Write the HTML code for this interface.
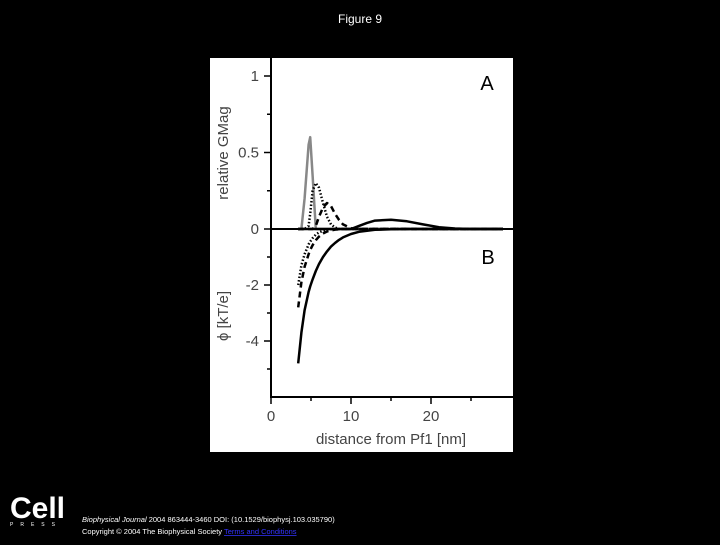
<!DOCTYPE html>
<html><head><meta charset="utf-8"><style>
body{margin:0;background:#000;width:720px;height:540px;overflow:hidden;font-family:"Liberation Sans",sans-serif}
</style></head><body>
<svg width="720" height="540" xmlns="http://www.w3.org/2000/svg">
<text x="360" y="23" fill="#fff" font-size="12" text-anchor="middle">Figure 9</text>
<rect x="210" y="58" width="303" height="394" fill="#fff"/>
<g id="plot"></g>
<text x="10" y="518" fill="#fff" font-size="30" font-weight="bold">Cell</text>
<text x="10" y="526" fill="#fff" font-size="5" letter-spacing="7">PRESS</text>
<text x="82" y="522" fill="#fff" font-size="7.5"><tspan font-style="italic">Biophysical Journal</tspan> 2004 863444-3460 DOI: (10.1529/biophysj.103.035790)</text>
<text x="82" y="534" fill="#fff" font-size="7.5">Copyright © 2004 The Biophysical Society <tspan fill="#33f" text-decoration="underline">Terms and Conditions</tspan></text>
</svg>
<script>
const xTicks=[0,10,20];
const aTicks=[0,0.5,1];
const bTicks=[-2,-4];
const xs=[3.4,3.8,4.2,4.7,4.9,5.2,5.6,6,6.5,7,7.5,8,8.5,9,10,11,12,13,15,17,19,21,23,25,29];
const grayA=[0,0,0.2,0.55,0.6,0.35,0,0,0,0,0,0,0,0,0,0,0,0,0,0,0,0,0,0,0];
const dotA=[0,0,0,0.02,0.1,0.25,0.3,0.27,0.17,0.08,0.03,0.01,0,0,0,0,0,0,0,0,0,0,0,0,0];
const dashA=[0,0,0,0,0,0,0.02,0.08,0.14,0.17,0.15,0.1,0.06,0.03,0.005,0,0,0,0,0,0,0,0,0,0];
const solidA=[0,0,0,0,0,0,0,0,0,0,0,0,0,0,0,0.02,0.04,0.055,0.06,0.05,0.03,0.012,0.003,0,0];
const dotB=[-2,-1.3,-0.9,-0.55,-0.45,-0.33,-0.2,-0.12,-0.06,-0.03,-0.01,0,0,0,0,0,0,0,0,0,0,0,0,0,0];
const dashB=[-2.8,-1.9,-1.35,-0.9,-0.75,-0.58,-0.4,-0.27,-0.16,-0.09,-0.05,-0.02,-0.01,0,0,0,0,0,0,0,0,0,0,0,0];
const solidB=[-4.8,-3.7,-2.9,-2.25,-2.05,-1.8,-1.5,-1.25,-1.0,-0.8,-0.63,-0.5,-0.39,-0.3,-0.18,-0.1,-0.06,-0.03,-0.01,0,0,0,0,0,0];
const NS="http://www.w3.org/2000/svg";
const g=document.getElementById('plot');
const X=v=>271+v*8, YA=v=>229-v*153, YB=v=>229-v*28;
function el(t,a){const e=document.createElementNS(NS,t);for(const k in a)e.setAttribute(k,a[k]);g.appendChild(e);return e;}
function txt(x,y,s,o){const e=el('text',Object.assign({x:x,y:y,'font-size':15,fill:'#000'},o||{}));e.textContent=s;return e;}
let ax=el('line',{x1:271,y1:58,x2:271,y2:397,stroke:'#000','stroke-width':2});

ax=el('line',{x1:270,y1:397,x2:513,y2:397,stroke:'#000','stroke-width':2});

ax=el('line',{x1:271,y1:229,x2:513,y2:229,stroke:'#000','stroke-width':2});

xTicks.forEach(v=>{el('line',{x1:X(v),y1:397,x2:X(v),y2:404,stroke:'#000','stroke-width':1.5});const t=txt(X(v),421,String(v),{'text-anchor':'middle',fill:'#444'});});
[5,15,25].forEach(v=>el('line',{x1:X(v),y1:397,x2:X(v),y2:401,stroke:'#000','stroke-width':1.5}));
aTicks.forEach(v=>{el('line',{x1:264,y1:YA(v),x2:271,y2:YA(v),stroke:'#000','stroke-width':1.5});const t=txt(259,YA(v)+5,String(v),{'text-anchor':'end',fill:'#444'});});
[0.25,0.75].forEach(v=>el('line',{x1:267,y1:YA(v),x2:271,y2:YA(v),stroke:'#000','stroke-width':1.5}));
bTicks.forEach(v=>{el('line',{x1:264,y1:YB(v),x2:271,y2:YB(v),stroke:'#000','stroke-width':1.5});const t=txt(259,YB(v)+5,String(v),{'text-anchor':'end',fill:'#444'});});
[-1,-3,-5].forEach(v=>el('line',{x1:267,y1:YB(v),x2:271,y2:YB(v),stroke:'#000','stroke-width':1.5}));
let t=txt(391,444,'distance from Pf1 [nm]',{'text-anchor':'middle',fill:'#444'});
t=txt(0,0,'relative GMag',{'text-anchor':'middle',fill:'#444',transform:'translate(228,153) rotate(-90)'});
t=txt(0,0,'ϕ [kT/e]',{'text-anchor':'middle',fill:'#444',transform:'translate(228,316) rotate(-90)'});
t=txt(487,90,'A',{'text-anchor':'middle','font-size':20});
t=txt(488,264,'B',{'text-anchor':'middle','font-size':20});
function line(arr,Y,style,name){const d=xs.map((x,i)=>(i?'L':'M')+X(x).toFixed(1)+','+Y(arr[i]).toFixed(1)).join('');const p=el('path',Object.assign({d:d,fill:'none','stroke-linejoin':'round'},style));}
line(grayA,YA,{stroke:'#888','stroke-width':2.5},'gray-line-a');
line(dotA,YA,{stroke:'#000','stroke-width':2.5,'stroke-dasharray':'1.5,2'},'dotted-line-a');
line(dashA,YA,{stroke:'#000','stroke-width':2.5,'stroke-dasharray':'6,4'},'dashed-line-a');
line(solidA,YA,{stroke:'#000','stroke-width':2.5},'solid-line-a');
line(dotB,YB,{stroke:'#000','stroke-width':2.5,'stroke-dasharray':'1.5,2'},'dotted-line-b');
line(dashB,YB,{stroke:'#000','stroke-width':2.5,'stroke-dasharray':'6,4'},'dashed-line-b');
line(solidB,YB,{stroke:'#000','stroke-width':2.5},'solid-line-b');
</script>
</body></html>
